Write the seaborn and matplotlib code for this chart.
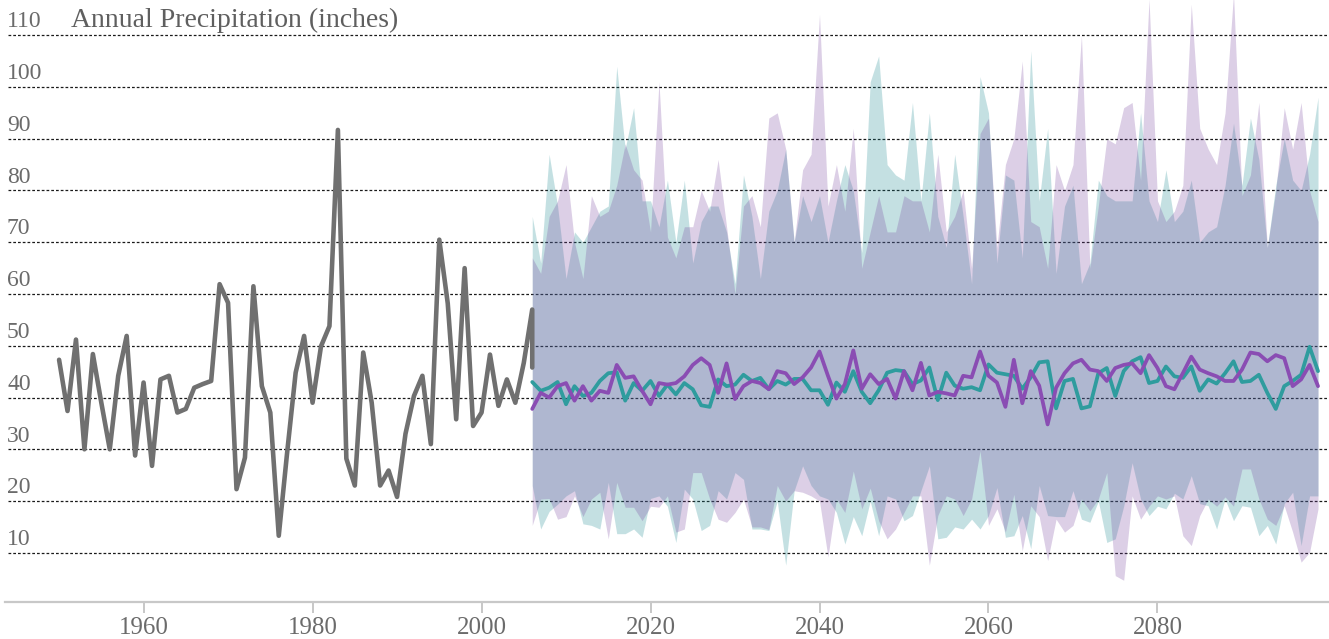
import numpy as np
import pandas as pd
import matplotlib
matplotlib.use("Agg")
import matplotlib.pyplot as plt
import matplotlib.transforms as mtransforms
import seaborn as sns

# ---------------- data ----------------
hist_years = list(range(1950, 2007))
hist_values = [47.3, 37.4, 51.2, 30.0, 48.4, 39.0, 30.0, 44.2, 51.9, 28.8,
               42.9, 26.8, 43.5, 44.2, 37.1, 37.8, 41.9, 42.6, 43.2, 61.9,
               58.3, 22.3, 28.4, 61.5, 42.2, 37.1, 13.3, 29.5, 44.8, 51.9,
               39.0, 49.9, 53.8, 91.7, 28.2, 23.0, 48.7, 39.0, 23.0, 25.9,
               20.8, 33.0, 40.3, 44.2, 31.0, 70.5, 58.2, 35.8, 65.0, 34.5,
               37.1, 48.3, 38.4, 43.5, 39.0, 46.7, 57.0]
hist_end_year = 2006
hist_end_value = 45.8

proj_years = list(range(2006, 2100))

teal_mean = [43.0, 41.3, 41.9, 43.0, 38.7, 42.2, 40.3, 40.9, 43.2, 44.7,
             44.9, 39.4, 42.8, 41.3, 43.2, 40.3, 42.5, 40.6, 42.8, 41.6,
             38.5, 38.2, 43.5, 42.2, 42.5, 44.4, 43.2, 43.8, 41.6, 43.2,
             42.5, 43.6, 43.6, 41.4, 41.4, 38.6, 42.9, 41.1, 45.1, 41.1,
             38.9, 41.4, 44.8, 45.3, 45.1, 42.6, 43.3, 45.8, 39.5, 44.8,
             42.3, 41.7, 42.0, 41.4, 46.4, 44.8, 44.5, 44.2, 41.7, 43.9,
             46.8, 47.0, 37.9, 43.2, 43.6, 37.9, 38.3, 44.7, 45.7, 40.3,
             45.1, 47.0, 47.8, 42.8, 43.2, 46.0, 44.1, 43.8, 46.0, 41.3,
             43.5, 42.7, 44.7, 47.0, 43.0, 43.2, 44.4, 40.9, 37.8, 42.2,
             43.2, 44.4, 49.8, 45.1]

purple_mean = [37.8, 40.9, 40.0, 42.2, 42.8, 39.4, 42.2, 39.4, 41.3, 40.9,
               46.3, 43.8, 44.1, 41.3, 38.7, 42.8, 42.5, 42.8, 44.1, 46.3,
               47.6, 46.3, 40.9, 46.6, 39.7, 42.2, 43.2, 42.8, 41.6, 45.1,
               44.7, 42.6, 43.9, 45.8, 48.9, 44.2, 39.8, 42.6, 49.1, 41.7,
               44.5, 42.6, 43.6, 39.8, 45.1, 41.4, 46.7, 40.4, 41.1, 40.8,
               40.4, 44.2, 43.9, 48.9, 44.2, 42.9, 38.2, 47.3, 38.9, 45.1,
               42.3, 34.8, 41.9, 44.7, 46.6, 47.3, 45.4, 45.1, 43.2, 45.7,
               46.3, 46.6, 44.7, 48.2, 45.7, 42.2, 41.6, 44.7, 47.9, 45.4,
               44.7, 44.1, 43.2, 43.2, 45.4, 48.7, 48.4, 47.0, 48.2, 47.6,
               42.2, 43.5, 46.3, 42.2]

teal_high = [75, 66, 87, 77, 63, 72, 70, 73, 76, 77,
             104, 88, 96, 78, 78, 73, 82, 70, 82, 66,
             74, 77, 77, 72, 62, 83, 75, 63, 76, 80,
             88, 70, 79, 74, 79, 70, 78, 85, 80, 68,
             101, 106, 85, 83, 82, 97, 78, 95, 75, 69,
             87, 75, 62, 102, 95, 66, 83, 82, 67, 107,
             78, 92, 64, 77, 81, 62, 66, 82, 79, 78,
             78, 78, 95, 78, 74, 84, 74, 76, 82, 70,
             72, 73, 81, 93, 81, 94, 86, 69, 81, 90,
             82, 80, 87, 98]

purple_high = [67, 64, 75, 78, 85, 70, 63, 79, 75, 76,
               81, 89, 84, 82, 72, 101, 71, 67, 73, 73,
               80, 76, 86, 73, 60, 77, 79, 73, 94, 95,
               88, 70, 84, 87, 114, 77, 85, 76, 92, 65,
               72, 79, 72, 72, 79, 78, 78, 72, 87, 72,
               75, 80, 65, 91, 94, 69, 85, 90, 105, 74,
               73, 65, 85, 80, 85, 110, 65, 77, 90, 89,
               96, 97, 82, 117, 78, 74, 76, 81, 116, 92,
               88, 85, 95, 118, 79, 83, 97, 69, 80, 96,
               88, 97, 80, 74]

teal_low = [23, 14.6, 18, 19.4, 21, 22, 15.6, 15.3, 14.6, 23.6,
            13.7, 13.7, 14.6, 13, 20.5, 21, 19, 12, 22.3, 20.4,
            14.3, 15.3, 22, 20.4, 25.5, 24.2, 14.6, 14.6, 14.3, 20,
            7.6, 22, 26.8, 23, 21, 20.4, 17.8, 11.7, 17, 13.3,
            20, 13.3, 21, 20.4, 16.2, 17.2, 22, 26.8, 12.7, 13,
            15, 14.6, 16.5, 14.6, 17.2, 22.6, 13, 13.3, 17.2, 10.8,
            23, 17.2, 17, 17, 22, 16.5, 15.9, 20, 12, 12.7,
            19, 27.4, 20.4, 17.2, 19, 18.5, 21.5, 20.4, 24.9, 19.5,
            19.1, 14.6, 20.4, 16.2, 19.1, 18.8, 13.3, 15.3, 11.7, 19.5,
            21.7, 11.4, 21, 21]

purple_low = [15.3, 20.4, 20.5, 16.5, 17, 21, 17, 20.4, 21.7, 12.7,
              23.6, 18.8, 18.8, 16.2, 19, 18.8, 21, 14, 14.6, 25.5,
              25.5, 20.4, 16.5, 15.9, 17.8, 20.4, 15, 15, 14.5, 23,
              20, 22, 21.7, 21, 20, 9.2, 20.4, 17.8, 25.8, 18.5,
              22.5, 16.2, 12.7, 14.6, 17.8, 21, 21, 7.6, 17.2, 21,
              20.4, 17.2, 20.4, 29.7, 15.3, 18.5, 14, 21.3, 10.4, 19.1,
              17, 8.5, 16.5, 14, 15.3, 20.4, 18.1, 20.4, 25.5, 5.6,
              4.7, 21, 16.5, 19, 21, 20.4, 21, 13.3, 11.4, 17.2,
              20.4, 19, 20.8, 19, 26.2, 26.2, 20.4, 16.5, 15.3, 19.1,
              14, 8.2, 10.1, 18.5]

y_labels = [10, 20, 30, 40, 50, 60, 70, 80, 90, 100, 110]
x_ticks = [1960, 1980, 2000, 2020, 2040, 2060, 2080]
title_text = "Annual Precipitation (inches)"

# ---------------- style ----------------
sns.set_theme(style="white")
plt.rcParams["font.family"] = ["Liberation Serif", "DejaVu Serif"]

TEXT = "#6b6b6b"
GRAY_LINE = "#707070"
TEAL = "#2f9c9e"
PURPLE = "#8a4db3"
TEAL_FILL = "#17878f"
PURPLE_FILL = "#74409c"

W, H = 1329, 639
fig = plt.figure(figsize=(W / 100, H / 100), dpi=100)
left_px, bottom_px = 5, 602
ax = fig.add_axes([left_px / W, (H - bottom_px) / H, 1 - left_px / W, bottom_px / H])

hist_df = pd.DataFrame({"year": hist_years + [hist_end_year],
                        "value": hist_values + [hist_end_value]})
proj_df = pd.DataFrame({"year": proj_years,
                        "teal": teal_mean, "purple": purple_mean,
                        "teal_hi": teal_high, "teal_lo": teal_low,
                        "purple_hi": purple_high, "purple_lo": purple_low})

# gridlines
for v in y_labels:
    ax.axhline(v, xmin=3 / (W - left_px), xmax=1, color="#1a1a1a",
               lw=0.9, ls=(0, (2.2, 1.6)), zorder=1)

# bands
ax.fill_between(proj_df["year"], proj_df["teal_lo"], proj_df["teal_hi"],
                color=TEAL_FILL, alpha=0.25, lw=0, zorder=2)
ax.fill_between(proj_df["year"], proj_df["purple_lo"], proj_df["purple_hi"],
                color=PURPLE_FILL, alpha=0.25, lw=0, zorder=2)

# lines
sns.lineplot(data=hist_df, x="year", y="value", sort=False, estimator=None,
             color=GRAY_LINE, linewidth=3.3, ax=ax, zorder=4)
sns.lineplot(data=proj_df, x="year", y="teal", estimator=None,
             color=TEAL, linewidth=2.7, ax=ax, zorder=5)
sns.lineplot(data=proj_df, x="year", y="purple", estimator=None,
             color=PURPLE, linewidth=2.7, ax=ax, zorder=6)

ax.set_xlim(1943.6, 2100.3)
ax.set_ylim(0.5, 116.8)

# y labels inside the plot
trans = mtransforms.blended_transform_factory(ax.transAxes, ax.transData)
for v in y_labels:
    ax.text(2 / (W - left_px), v + 1.5, str(v), transform=trans,
            ha="left", va="baseline", fontsize=17, color=TEXT, zorder=7)
ax.text(66 / (W - left_px), 111.5, title_text, transform=trans,
        ha="left", va="baseline", fontsize=20, color="#5f5f5f", zorder=7)

ax.set_yticks([])
ax.set_xticks(x_ticks)
ax.set_xticklabels([str(t) for t in x_ticks])
ax.tick_params(axis="x", direction="out", length=8, width=1.2,
               color="#bdbdbd", labelcolor=TEXT, labelsize=18, pad=3, bottom=True)
ax.set_xlabel("")
ax.set_ylabel("")
for s in ["top", "right", "left"]:
    ax.spines[s].set_visible(False)
ax.spines["bottom"].set_color("#c8c8c8")
ax.spines["bottom"].set_linewidth(1.6)
ax.set_facecolor("white")
legend = ax.get_legend()
if legend is not None:
    legend.remove()

fig.savefig("out.png", dpi=100, facecolor="white")
